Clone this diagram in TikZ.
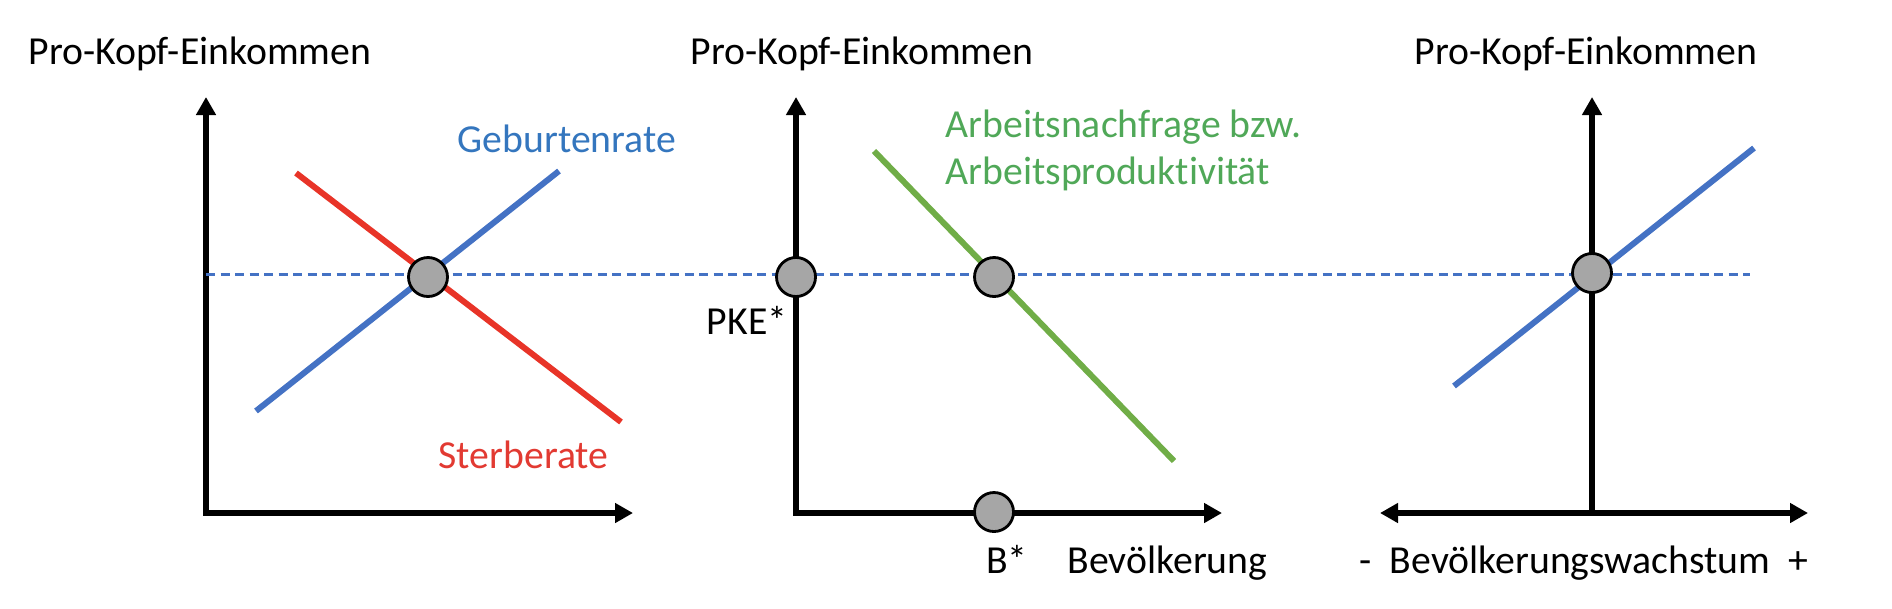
\documentclass[tikz,border=0pt]{standalone}
\usepackage{fontspec}
\setmainfont{Carlito}[Ligatures=CommonOff]
\usepackage{xcolor}
\usepackage{tikz}
\usetikzlibrary{arrows.meta,positioning}

\definecolor{lineblue}{RGB}{68,114,196}
\definecolor{linered}{RGB}{232,52,40}
\definecolor{linegreen}{RGB}{112,173,71}
\definecolor{textblue}{RGB}{52,118,190}
\definecolor{textred}{RGB}{226,58,50}
\definecolor{textgreen}{RGB}{80,168,88}
\definecolor{dotgray}{RGB}{166,166,166}

\begin{document}
\begin{tikzpicture}[
  axis/.style={line width=1.8pt, line join=miter, -{Triangle[length=1.8mm, width=1.9mm]}},
  twoaxis/.style={line width=1.8pt, line join=miter, {Triangle[length=1.8mm, width=1.9mm]}-{Triangle[length=1.8mm, width=1.9mm]}},
  curve/.style={line width=1.7pt},
  guide/.style={draw=lineblue, line width=0.6pt, dash pattern=on 0.9mm off 0.55mm},
  dot/.style={circle, draw=black, line width=0.8pt, fill=dotgray, minimum size=3.9mm, inner sep=0pt},
  lbl/.style={inner sep=0pt, font=\fontsize{11.3}{13.4}\selectfont}
]
\useasboundingbox (0,0) rectangle (18.92,6.08);

% left panel: Geburten- und Sterberate
\coordinate (o1) at (2.06,0.95);
\coordinate (top1) at (2.06,5.11);
\coordinate (tip1) at (6.33,0.95);
\coordinate (sA) at (2.96,4.35);
\coordinate (sB) at (6.21,1.86);
\coordinate (gA) at (2.56,1.97);
\coordinate (gB) at (5.59,4.37);

% middle panel: Arbeitsnachfrage
\coordinate (o2) at (7.96,0.95);
\coordinate (top2) at (7.96,5.11);
\coordinate (tip2) at (12.22,0.95);
\coordinate (aA) at (8.74,4.57);
\coordinate (aB) at (11.74,1.47);

% right panel: Bevoelkerungswachstum
\coordinate (o3) at (15.92,0.95);
\coordinate (top3) at (15.92,5.11);
\coordinate (left3) at (13.80,0.95);
\coordinate (right3) at (18.08,0.95);
\coordinate (wA) at (14.54,2.22);
\coordinate (wB) at (17.54,4.60);

% gleichgewicht line
\coordinate (pkeL) at (2.06,3.335);
\coordinate (pkeR) at (17.50,3.335);

\draw[twoaxis] (top1) -- (o1) -- (tip1);
\draw[twoaxis] (top2) -- (o2) -- (tip2);
\draw[twoaxis] (left3) -- (right3);
\draw[axis] (o3) -- (top3);

\draw[guide] (pkeL) -- (pkeR);

\draw[curve, linered] (sA) -- (sB);
\draw[curve, lineblue] (gA) -- (gB);
\draw[curve, linegreen] (aA) -- (aB);
\draw[curve, lineblue] (wA) -- (wB);

\node[dot] (eq1) at (4.28,3.31) {};
\node[dot] (pke) at (7.96,3.31) {};
\node[dot] (eq2) at (9.94,3.31) {};
\node[dot] (bstar) at (9.94,0.96) {};
\node[dot] (eq3) at (15.92,3.35) {};

\node[lbl, anchor=base west] (title1) at (0.28,5.44) {Pro-Kopf-Einkommen};
\node[lbl, anchor=base west] (title2) at (6.90,5.44) {Pro-Kopf-Einkommen};
\node[lbl, anchor=base west] (title3) at (14.14,5.44) {Pro-Kopf-Einkommen};

\node[lbl, anchor=base west, text=textblue] (geburt) at (4.57,4.56) {Geburtenrate};
\node[lbl, anchor=base west, text=textred] (sterbe) at (4.38,1.40) {Sterberate};
\node[lbl, anchor=base west, text=textgreen] (nachfrage) at (9.45,4.71) {Arbeitsnachfrage bzw.};
\node[lbl, anchor=base west, text=textgreen] (produkt) at ([yshift=-4.7mm]nachfrage.base west) {Arbeitsproduktivität};

\node[lbl, anchor=base east] (pkelbl) at (7.88,2.74) {PKE*};
\node[lbl, anchor=base] (blbl) at (10.07,0.35) {B*};
\node[lbl, anchor=base west] (bev) at (10.67,0.35) {Bevölkerung};
\node[lbl, anchor=base] (wachstum) at (15.84,0.35) {-~~Bevölkerungswachstum~~+};
\end{tikzpicture}
\end{document}
